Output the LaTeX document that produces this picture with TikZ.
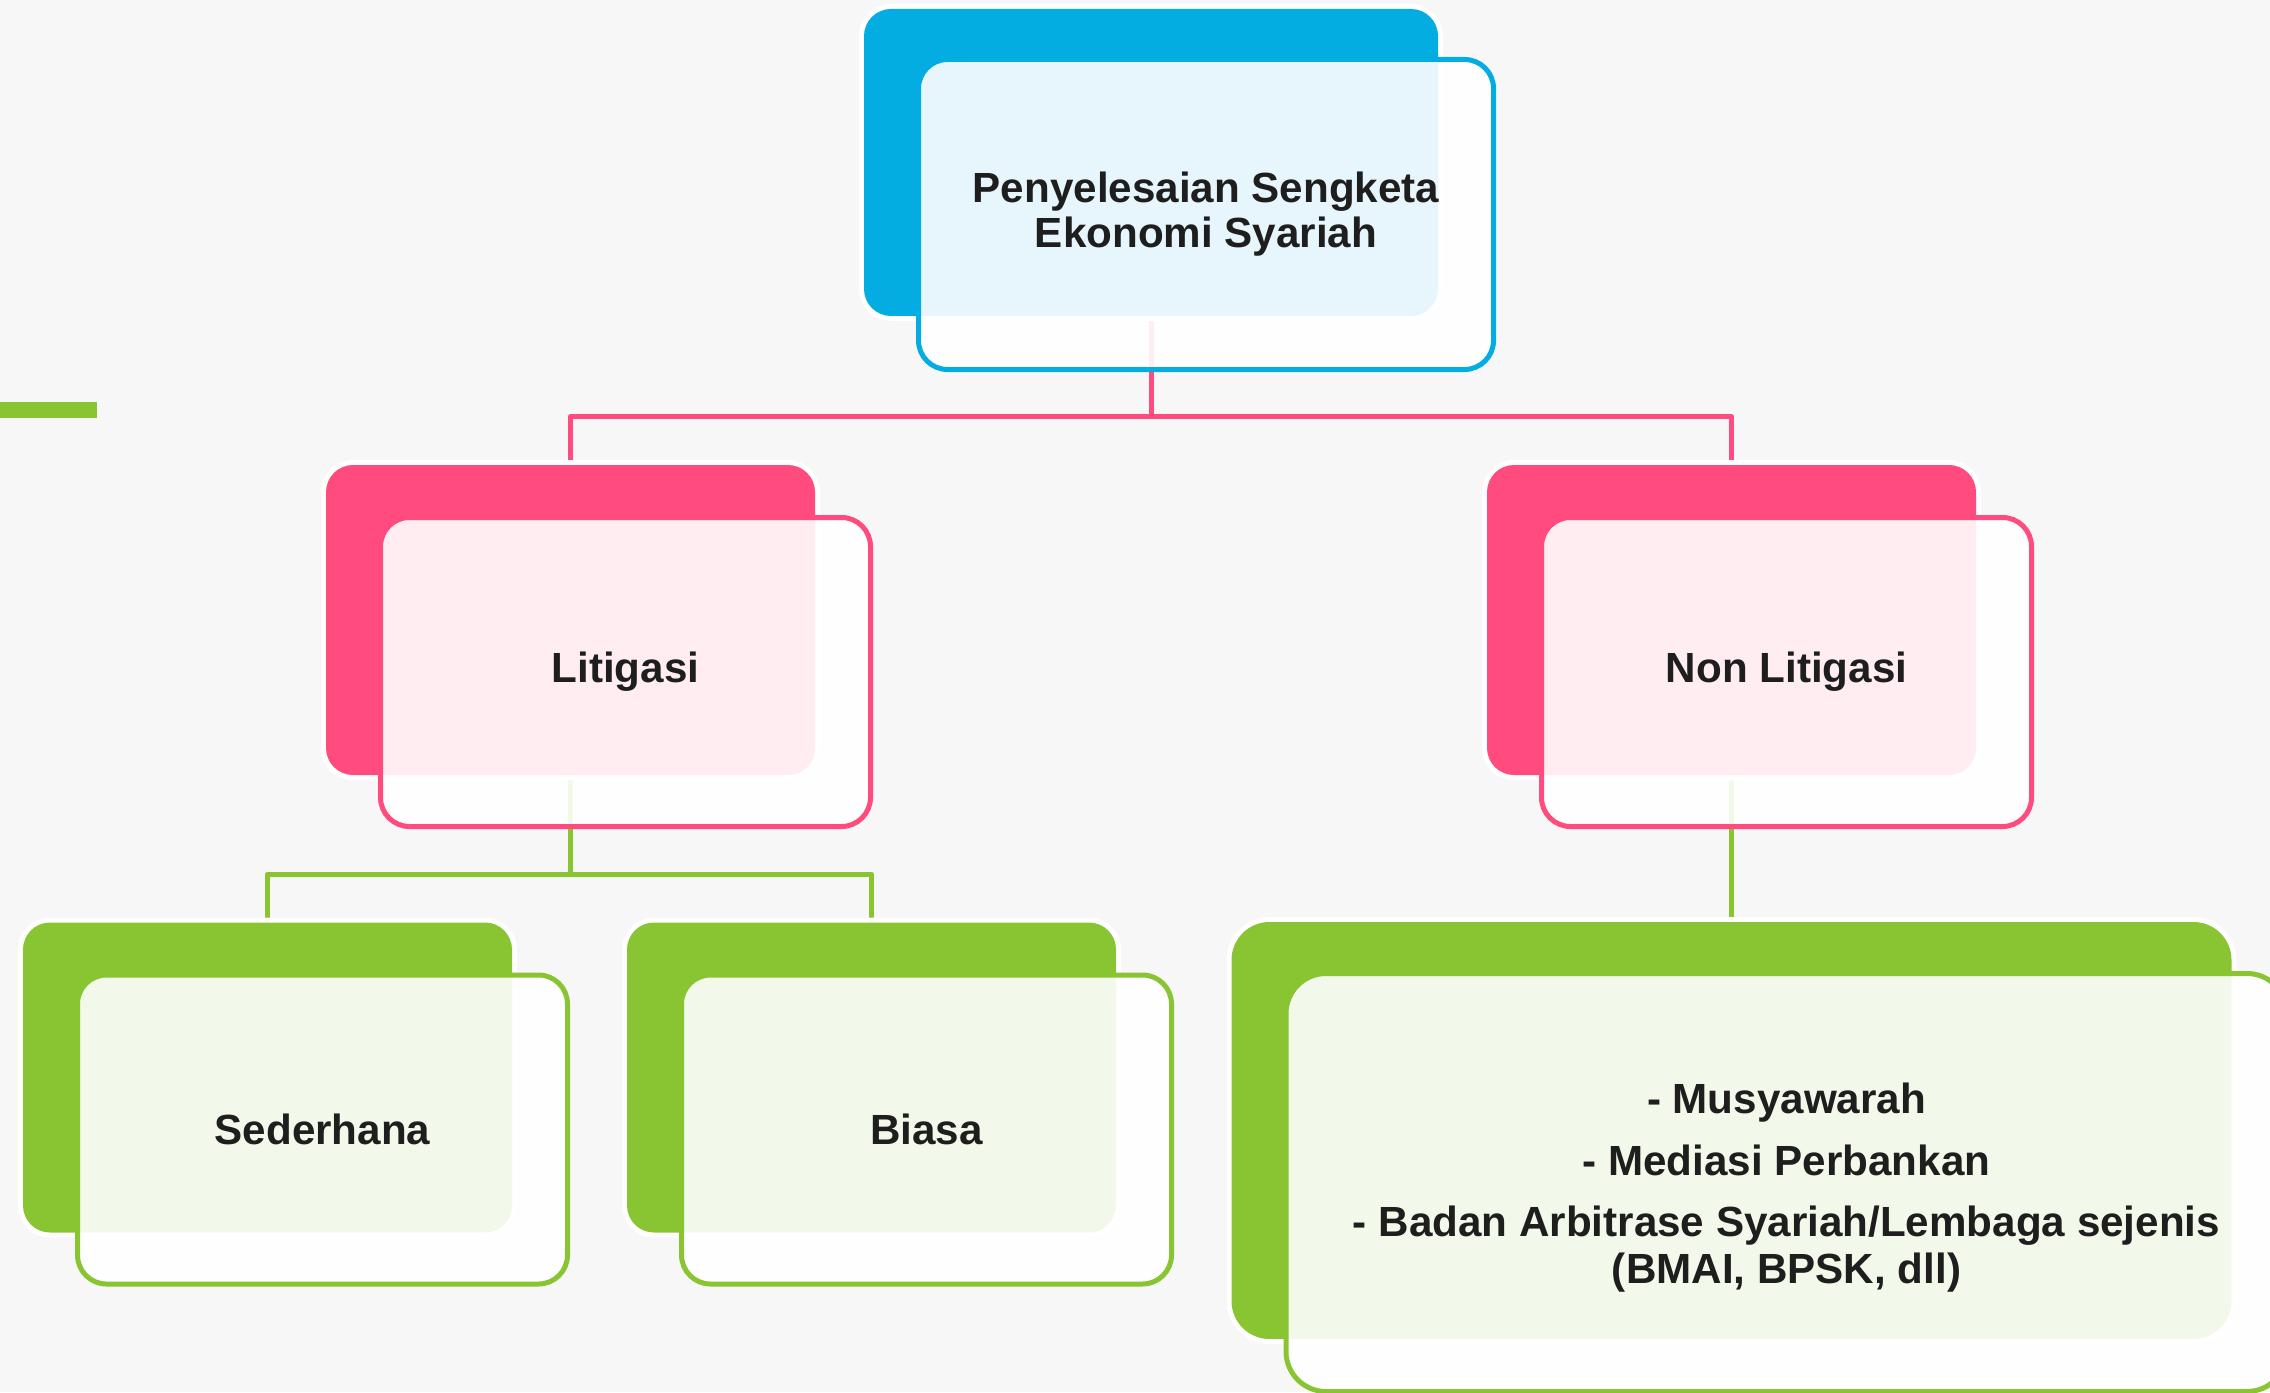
\documentclass[tikz,border=0pt]{standalone}
\usepackage{fontspec}
\setmainfont{Liberation Sans}
\usepackage{tikz}
\usetikzlibrary{positioning,backgrounds}
\definecolor{skyblue}{HTML}{03ADE1}
\definecolor{rosepink}{HTML}{FF4B7D}
\definecolor{leafgreen}{HTML}{89C432}
\definecolor{canvasgray}{HTML}{F7F7F7}
\definecolor{inkdark}{HTML}{1E1E1E}
\pgfdeclarelayer{canvas}
\pgfsetlayers{canvas,background,main}
\tikzset{
    %Define style for the filled back cards
    backbox/.style={
           fill=#1,
           preaction={draw=white, line width=0.1cm},
           rounded corners=0.27cm,
           minimum width=4.89cm,
           minimum height=3.10cm,
           inner sep=0pt,
           outer sep=0pt},
    %Define style for the outlined front cards
    frontbox/.style={
           draw=#1,
           line width=0.05cm,
           fill=white,
           fill opacity=0.9,
           text opacity=1,
           rounded corners=0.29cm,
           minimum width=4.90cm,
           minimum height=3.09cm,
           inner sep=0pt,
           outer sep=0pt,
           text=inkdark,
           align=center,
           font=\bfseries\fontsize{12}{12.8}\selectfont},
    frontshift/.style={
           xshift=0.55cm,
           yshift=-0.52cm},
    % Define connector style
    tree/.style={
           draw=#1,
           line width=0.05cm,
           line join=round,
           to path={(\tikztostart.center) -- ++(0,-2.54) -| (\tikztotarget.center)}}
}

\begin{document}
\begin{tikzpicture}[node distance=4.575cm]
    \useasboundingbox (0,0) rectangle (22.70,-13.92);
    \begin{pgfonlayer}{canvas}
        \fill[canvasgray] (0,0) rectangle (22.70,-13.92);
        \fill[leafgreen] (0,-4.02) rectangle (0.97,-4.18);
    \end{pgfonlayer}

    % back cards
    \node[backbox=skyblue, minimum width=5.74cm, minimum height=3.07cm](root) at (11.51,-1.625){};
    \node[backbox=rosepink, below of= root, xshift=-5.805cm](lit){};
    \node[backbox=rosepink, below of= root, xshift=5.805cm](nonlit){};
    \node[backbox=leafgreen, below of= lit, xshift=-3.03cm](sed){};
    \node[backbox=leafgreen, below of= lit, xshift=3.01cm](biasa){};
    \node[backbox=leafgreen, below of= nonlit, yshift=-0.53cm, minimum width=10.00cm, minimum height=4.17cm, rounded corners=0.38cm](list){};

    % front cards
    \node[frontbox=skyblue, frontshift, minimum width=5.75cm, minimum height=3.10cm](rootf) at (root){Penyelesaian Sengketa\\Ekonomi Syariah};
    \node[frontbox=rosepink, frontshift](litf) at (lit){Litigasi};
    \node[frontbox=rosepink, frontshift](nonlitf) at (nonlit){Non Litigasi};
    \node[frontbox=leafgreen, frontshift](sedf) at (sed){Sederhana};
    \node[frontbox=leafgreen, frontshift](biasaf) at (biasa){Biasa};
    \node[frontbox=leafgreen, frontshift, minimum width=10.01cm, minimum height=4.18cm, rounded corners=0.4cm,
          font=\bfseries\fontsize{12}{13.4}\selectfont](listf) at (list){\rule{0pt}{0.41cm}- Musyawarah\\[0.14cm]
          - Mediasi Perbankan\\[0.14cm]
          - Badan Arbitrase Syariah/Lembaga sejenis\\(BMAI, BPSK, dll)};

    % edges
    \begin{scope}[on background layer]
        \path[tree=rosepink] (root)   edge (lit)
                             (root)   edge (nonlit);
        \path[tree=leafgreen] (lit)   edge (sed)
                              (lit)   edge (biasa)
                              (nonlit) edge (list);
    \end{scope}
\end{tikzpicture}
\end{document}
